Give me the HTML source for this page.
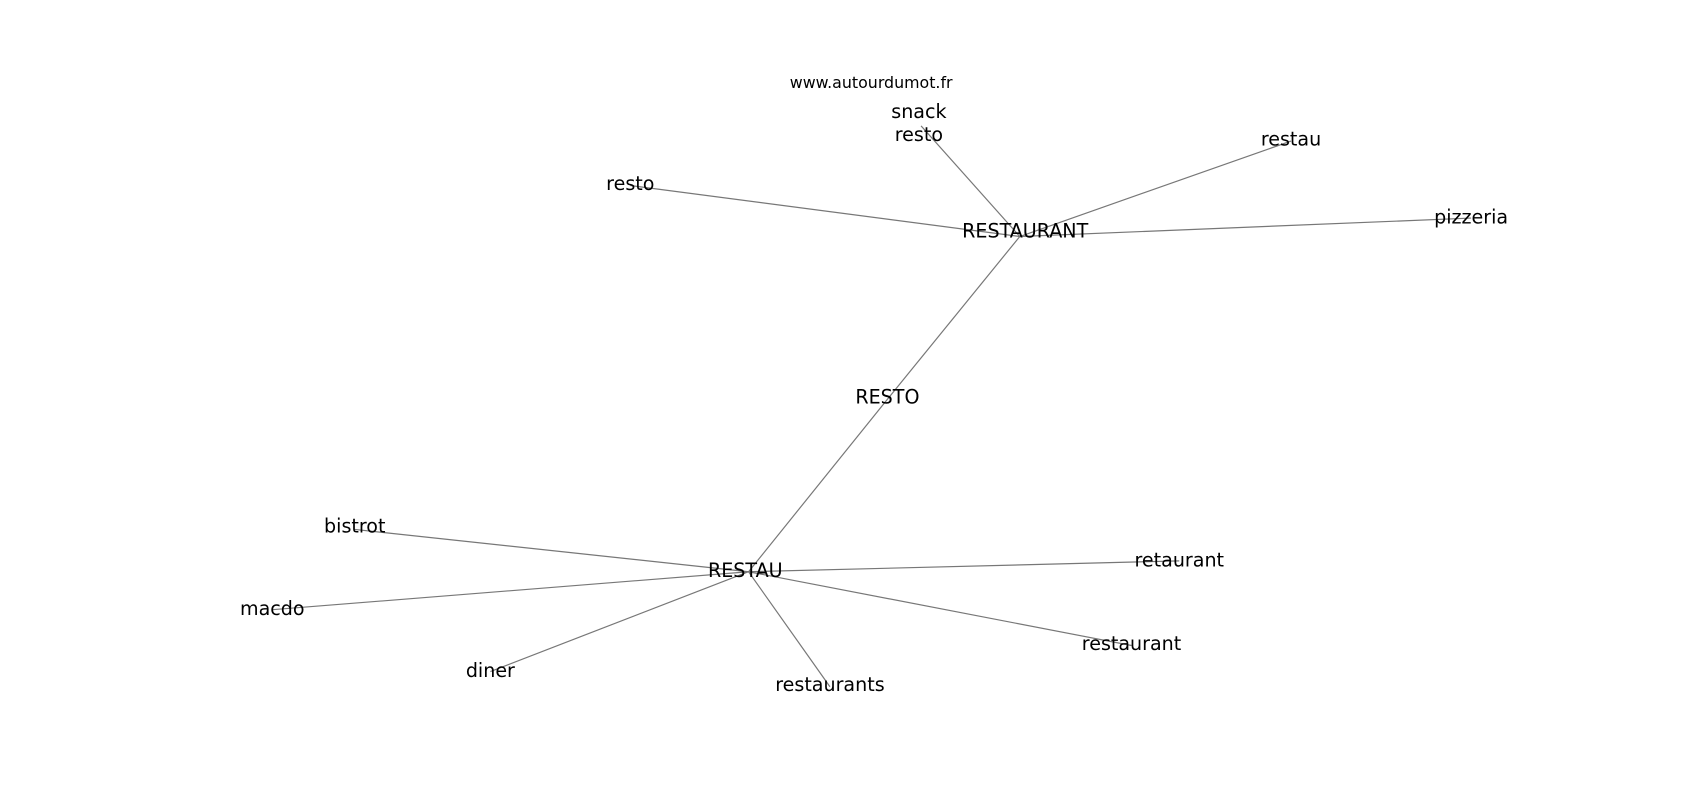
<!DOCTYPE html>
<html><head><meta charset="utf-8"><style>html,body{margin:0;padding:0;background:#fff;width:1700px;height:800px;overflow:hidden}</style></head>
<body>
<svg width="1700" height="800" viewBox="0 0 1567 737.4" xmlns="http://www.w3.org/2000/svg" font-family="DejaVu Sans, Liberation Sans, sans-serif">
<g stroke="#777" stroke-width="1.1">
<line x1="940" y1="218" x2="581" y2="171"/>
<line x1="940" y1="218" x2="849" y2="116"/>
<line x1="940" y1="218" x2="1190" y2="130"/>
<line x1="940" y1="218" x2="1356" y2="201"/>
<line x1="940" y1="218" x2="818" y2="368"/>
<line x1="818" y1="368" x2="690" y2="527"/>
<line x1="690" y1="527" x2="327" y2="488"/>
<line x1="690" y1="527" x2="251" y2="562"/>
<line x1="690" y1="527" x2="452" y2="619"/>
<line x1="690" y1="527" x2="765" y2="633"/>
<line x1="690" y1="527" x2="1043" y2="595"/>
<line x1="690" y1="527" x2="1087" y2="517"/>
</g>
<g font-size="17.6" fill="#000" text-anchor="middle" dominant-baseline="central">
<text x="945" y="213">RESTAURANT</text>
<text x="581" y="169">resto</text>
<text x="847" y="103">snack</text>
<text x="847" y="124">resto</text>
<text x="1190" y="128">restau</text>
<text x="1356" y="200">pizzeria</text>
<text x="818" y="366">RESTO</text>
<text x="687" y="526">RESTAU</text>
<text x="327" y="485">bistrot</text>
<text x="251" y="561">macdo</text>
<text x="452" y="618">diner</text>
<text x="765" y="631">restaurants</text>
<text x="1043" y="593">restaurant</text>
<text x="1087" y="516">retaurant</text>
<text x="803" y="76" font-size="14.6">www.autourdumot.fr</text>
</g>
</svg>
</body></html>
